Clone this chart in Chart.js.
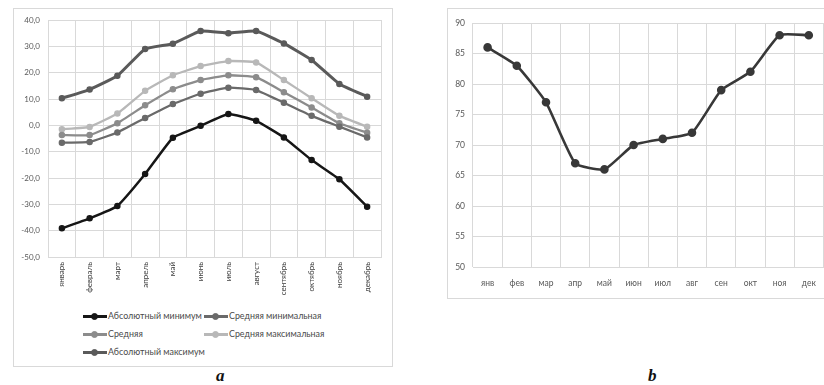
<!DOCTYPE html>
<html><head><meta charset="utf-8">
<script src="https://cdn.jsdelivr.net/npm/chart.js@4.4.1/dist/chart.umd.min.js"></script>
<style>
html,body{margin:0;padding:0;background:#fff;width:824px;height:385px;overflow:hidden;position:relative;font-family:Lato,"Open Sans",sans-serif;}
.box{position:absolute;border:1px solid #d9d9d9;box-sizing:border-box;}
#box1{left:13px;top:8px;width:380px;height:359px;}
#box2{left:447px;top:8px;width:400px;height:291px;}
canvas{position:absolute;}
#c1{left:0;top:0;}
#c2{left:430px;top:0;}
.lg{position:absolute;height:12px;line-height:12px;font-size:8.9px;color:#4a4a4a;white-space:nowrap;}
.lg .ln{position:absolute;left:0;top:5px;width:24px;height:3px;}
.lg .dot{position:absolute;left:8px;top:2.5px;width:5px;height:5px;border-radius:50%;border:1px solid;}
.lg .tx{position:absolute;left:25px;top:0;}
.cap{position:absolute;font-family:"Liberation Serif","DejaVu Serif",serif;font-style:italic;font-weight:bold;font-size:17px;color:#111;}
</style></head>
<body>
<div class="box" id="box1"></div>
<div class="box" id="box2"></div>
<canvas id="c1" width="400" height="310"></canvas>
<canvas id="c2" width="400" height="300"></canvas>
<div id="legend"></div>
<div class="cap" style="left:216px;top:366px;">a</div>
<div class="cap" style="left:648px;top:366px;">b</div>
<script>
// ---- Chart a data ----
const monthsFull = ['январь','февраль','март','апрель','май','июнь','июль','август','сентябрь','октябрь','ноябрь','декабрь'];
const absMin = [-39.1,-35.3,-30.6,-18.5,-4.7,-0.2,4.3,1.7,-4.6,-13.2,-20.5,-30.9];
const avgMin = [-6.6,-6.3,-2.7,2.8,8.1,12.0,14.3,13.4,8.6,3.6,-0.5,-4.6];
const avgT   = [-3.7,-3.7,0.8,7.6,13.7,17.2,19.0,18.3,12.6,6.8,0.8,-2.8];
const avgMax = [-1.5,-0.6,4.5,13.1,19.0,22.5,24.4,23.9,17.2,10.3,3.6,-0.5];
const absMax = [10.3,13.6,18.8,29.0,31.0,35.8,35.0,35.8,31.1,24.8,15.7,10.9];
const seriesNamesA = ['Абсолютный минимум','Средняя минимальная','Средняя','Средняя максимальная','Абсолютный максимум'];
const yMinA = -50, yMaxA = 40, yStepA = 10;
// ---- Chart b data ----
const monthsShort = ['янв','фев','мар','апр','май','июн','июл','авг','сен','окт','ноя','дек'];
const humidity = [86,83,77,67,66,70,71,72,79,82,88,88];
const yMinB = 50, yMaxB = 90, yStepB = 5;

const FONT = 'Lato, "Open Sans", sans-serif';
const GRID = '#d9d9d9';
const TXT = '#595959';

const seriesA = [absMin, avgMin, avgT, avgMax, absMax];
const colorsA = ['#161616','#6a6a6a','#8c8c8c','#b8b8b8','#5a5a5a'];
const widthsA = [2.5,2.3,2.3,2.3,3];

new Chart(document.getElementById('c1'), {
  type:'line',
  data:{
    labels: monthsFull,
    datasets: seriesA.map((d,i)=>({
      label: seriesNamesA[i], data: d,
      borderColor: colorsA[i], backgroundColor: colorsA[i],
      borderWidth: widthsA[i], tension: 0.12,
      pointRadius: 2.6, pointBorderWidth: 1.3,
      pointBackgroundColor: colorsA[i], pointBorderColor: colorsA[i]
    }))
  },
  options:{
    responsive:false, animation:false,
    layout:{padding:{left:0,top:20,right:19,bottom:0}},
    plugins:{legend:{display:false}, tooltip:{enabled:false}},
    scales:{
      x:{offset:true, grid:{offset:true,color:GRID,drawTicks:false}, border:{color:GRID},
         ticks:{minRotation:90,maxRotation:90,autoSkip:false,padding:5,color:'#404040',font:{family:FONT,size:8}},
         afterFit:s=>{s.height=53;}},
      y:{min:yMinA,max:yMaxA, grid:{color:GRID,drawTicks:false}, border:{display:false},
         ticks:{stepSize:yStepA,padding:8,color:TXT,font:{family:FONT,size:8},
                callback:v=>v.toFixed(1).replace('.',',')},
         afterFit:s=>{s.width=48;}}
    }
  }
});

// HTML legend for chart a
const legendPos = [[83,310],[204,310],[83,328],[204,328],[83,346]];
const lg = document.getElementById('legend');
seriesNamesA.forEach((n,i)=>{
  const d = document.createElement('div');
  d.className='lg';
  d.style.left = legendPos[i][0]+'px';
  d.style.top = legendPos[i][1]+'px';
  d.innerHTML = '<span class="ln" style="background:'+colorsA[i]+'"></span><span class="dot" style="background:'+colorsA[i]+';border-color:'+colorsA[i]+'"></span><span class="tx">'+n+'</span>';
  lg.appendChild(d);
});

new Chart(document.getElementById('c2'), {
  type:'line',
  data:{
    labels: monthsShort,
    datasets:[{
      label:'b', data: humidity,
      borderColor:'#383838', backgroundColor:'#383838', borderWidth:2.6, tension:0.15,
      pointRadius:3, pointBackgroundColor:'#383838', pointBorderColor:'#383838'
    }]
  },
  options:{
    responsive:false, animation:false,
    layout:{padding:{left:0,top:23,right:5,bottom:0}},
    plugins:{legend:{display:false}, tooltip:{enabled:false}},
    scales:{
      x:{offset:true, grid:{offset:true,color:GRID,drawTicks:false}, border:{color:GRID},
         ticks:{maxRotation:0,autoSkip:false,padding:11,color:TXT,font:{family:FONT,size:8.5}},
         afterFit:s=>{s.height=33;}},
      y:{min:yMinB,max:yMaxB, grid:{color:GRID,drawTicks:false}, border:{display:false},
         ticks:{stepSize:yStepB,padding:8,color:TXT,font:{family:FONT,size:8.5}},
         afterFit:s=>{s.width=43;}}
    }
  }
});
</script>
</body></html>
